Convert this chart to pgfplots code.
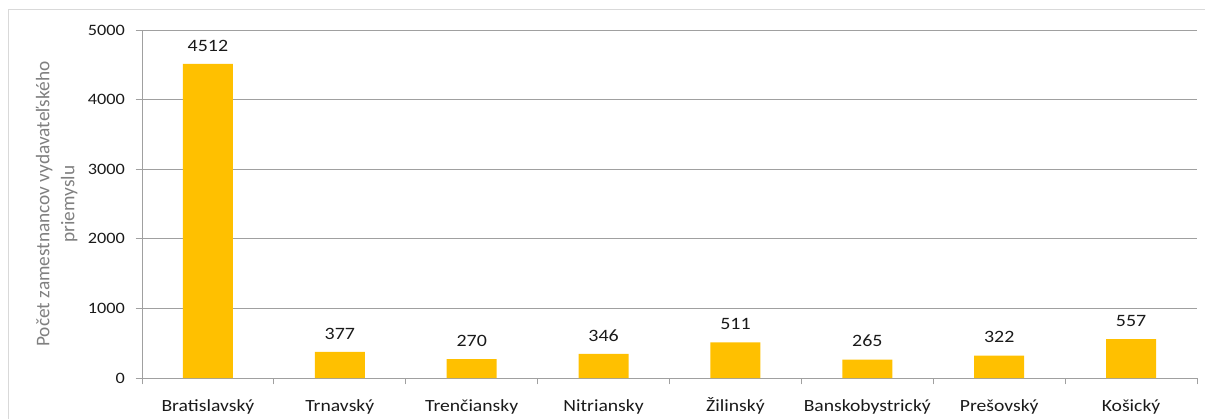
\documentclass[border=0pt]{standalone}
\usepackage{pgfplots}
\pgfplotsset{compat=1.18}
\usepackage{fontspec}
\setmainfont{Carlito}[FakeStretch=1.15]
\newfontfamily\lblfont{Carlito}
\definecolor{barc}{HTML}{FFC000}
\definecolor{gridc}{HTML}{A0A0A0}
\definecolor{framec}{HTML}{D9D9D9}
\definecolor{txtc}{HTML}{1A1A1A}
\definecolor{lblc}{HTML}{808080}
\begin{document}
\begin{tikzpicture}[x=1pt,y=1pt]
\useasboundingbox (0,0) rectangle (903.75,314.25);
\draw[framec, line width=0.75pt] (6,0) -- (6,307.5) -- (903.75,307.5);
\begin{axis}[
  at={(106.5pt,30.75pt)}, anchor=south west,
  scale only axis, width=791.25pt, height=261pt,
  xmin=-0.5, xmax=7.5, ymin=0, ymax=5000,
  ytick={0,1000,...,5000},
  ymajorgrids, grid style={gridc, line width=0.75pt},
  axis x line*=bottom, axis y line*=left,
  axis line style={gridc, line width=0.75pt, -},
  tick style={gridc, line width=0.75pt},
  tick align=outside, major tick length=4.8pt,
  xtick={-0.5,0.5,...,7.5},
  x tick label as interval=true,
  xticklabels={Bratislavský,Trnavský,Trenčiansky,Nitriansky,Žilinský,Banskobystrický,Prešovský,Košický},
  x tick label style={font=\fontsize{12.8}{14}\selectfont, text=txtc, anchor=north,
    text height=10pt, text depth=3pt, yshift=-7pt},
  y tick label style={font=\fontsize{11.9}{14}\selectfont, text=txtc, xshift=-4.5pt},
  /pgf/number format/assume math mode=true,
  scaled y ticks=false,
  yticklabel={\pgfmathprintnumber[assume math mode=true,1000 sep={}]{\tick}},
  ylabel={Počet zamestnancov vydavateľského\\priemyslu},
  ylabel style={font=\lblfont\fontsize{14.5}{18.75}\selectfont, text=lblc, align=center,
    at={(axis description cs:-0.0809,0.5)}, anchor=center},
  ybar, bar width=37.5pt,
  nodes near coords,
  nodes near coords style={font=\fontsize{13}{14}\selectfont, text=txtc, anchor=base, yshift=9.5pt},
  point meta=explicit symbolic,
]
\addplot[fill=barc, draw=none] coordinates {
  (0,4512) [4512]
  (1,377) [377]
  (2,270) [270]
  (3,346) [346]
  (4,511) [511]
  (5,265) [265]
  (6,322) [322]
  (7,557) [557]
};
\end{axis}
\end{tikzpicture}
\end{document}
